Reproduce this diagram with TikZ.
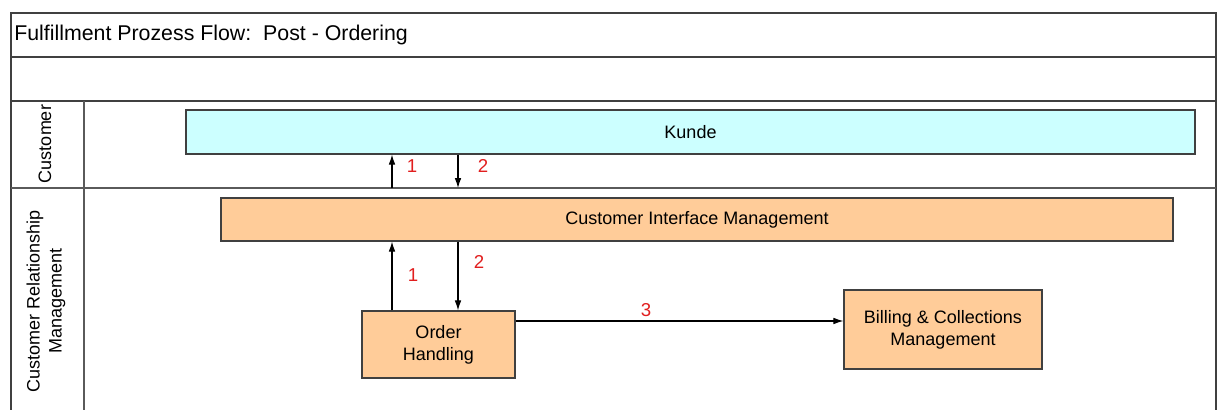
\documentclass[tikz,border=0pt]{standalone}
\usepackage{fontspec}
\setmainfont{Liberation Sans}
\usetikzlibrary{arrows.meta,calc}

\definecolor{kundefill}{RGB}{204,255,255}
\definecolor{procfill}{RGB}{255,204,153}
\definecolor{edgegray}{RGB}{64,64,64}
\definecolor{lanegray}{RGB}{90,90,90}
\definecolor{numred}{RGB}{225,30,30}

\tikzset{
  frameline/.style={draw=edgegray, line width=1.2pt},
  laneline/.style={draw=lanegray, line width=1pt},
  procbox/.style={draw=edgegray, line width=0.9pt, fill=procfill, inner sep=0pt,
    align=center, font=\fontsize{13.5}{16.5}\selectfont},
  custbox/.style={procbox, fill=kundefill},
  flow/.style={draw=black, line width=0.8pt, -{Latex[length=7.5pt,width=5pt]}},
  stepnum/.style={text=numred, font=\fontsize{14}{16}\selectfont, inner sep=0pt},
  lanelabel/.style={rotate=90, align=center, inner sep=0pt,
    font=\fontsize{13.5}{16.5}\selectfont},
}

\begin{document}
\begin{tikzpicture}[x=0.75pt, y=-0.75pt]
  \useasboundingbox (0,0) rectangle (1218,410);

  % pool frame and lane dividers
  \draw[frameline] (11,410) -- (11,13) -- (1216,13) -- (1216,410);
  \draw[frameline] (11,57) -- (1216,57);
  \draw[frameline] (11,101) -- (1216,101);
  \draw[laneline] (11,188) -- (1216,188);
  \draw[laneline] (84,101) -- (84,410);

  % title
  \node[anchor=west, inner sep=0pt, font=\fontsize{16}{19}\selectfont] (title) at (14,35)
    {Fulfillment Prozess Flow:\ \ Post - Ordering};

  % lane headers
  \node[lanelabel] (laneCust) at (45,144) {Customer};
  \node[lanelabel] (laneCRM) at (46,301) {Customer Relationship\\Management};

  % process boxes
  \node[custbox, minimum width=756.75pt, minimum height=33pt] (kunde) at (690.5,132) {Kunde};
  \node[procbox, minimum width=714pt, minimum height=32.25pt] (cim) at (697,219.5)
    {Customer Interface Management};
  \node[procbox, minimum width=114.75pt, minimum height=50.25pt] (order) at (438.5,344.5)
    {Order\\Handling};
  \node[procbox, minimum width=148.5pt, minimum height=59.25pt] (billing) at (943,329.5)
    {Billing \& Collections\\Management};

  % reference points for the flow lines
  \coordinate (up) at (392,188);
  \coordinate (down) at (458,188);
  \coordinate (lvl3) at (0,321);

  % flows between the lanes
  \draw[flow] (up) -- (up |- kunde.south);
  \draw[flow] (down |- kunde.south) -- (down);
  \draw[flow] (up |- order.north) -- (up |- cim.south);
  \draw[flow] (down |- cim.south) -- (down |- order.north);
  \draw[flow] (order.east |- lvl3) -- (billing.west |- lvl3);

  % step numbers
  \node[stepnum] (n1a) at (412,166) {1};
  \node[stepnum] (n2a) at (483,166) {2};
  \node[stepnum] (n1b) at (413,275) {1};
  \node[stepnum] (n2b) at (479,262) {2};
  \node[stepnum] (n3) at (646,310) {3};
\end{tikzpicture}
\end{document}
